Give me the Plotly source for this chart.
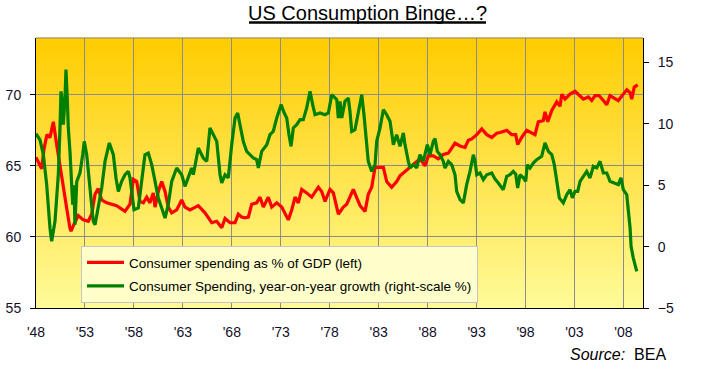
import plotly.graph_objects as go

# ---------------- data ----------------
title_text = "US Consumption Binge…?"
source_label = "Source:"
source_name = "BEA"
series_names = ["Consumer spending as % of GDP (left)",
                "Consumer Spending, year-on-year growth (right-scale %)"]

x_tick_years = [1948, 1953, 1958, 1963, 1968, 1973, 1978, 1983, 1988, 1993, 1998, 2003, 2008]
x_tick_labels = ["'48", "'53", "'58", "'63", "'68", "'73", "'78", "'83", "'88", "'93", "'98", "'03", "'08"]
left_ticks = [55, 60, 65, 70]
right_ticks = [-5, 0, 5, 10, 15]

red_years = [1948.00, 1948.31, 1948.58, 1948.82, 1949.12, 1949.43, 1949.77, 1950.11, 1950.45, 1950.79,
             1951.14, 1951.47, 1951.58, 1951.88, 1952.32, 1952.83, 1953.34, 1953.69, 1954.03, 1954.36,
             1954.71, 1955.22, 1956.24, 1957.09, 1957.60, 1957.94, 1958.29, 1958.62, 1958.96, 1959.31,
             1959.64, 1959.98, 1960.16, 1960.49, 1960.84, 1961.18, 1961.51, 1961.86, 1962.37, 1962.88,
             1963.22, 1963.73, 1964.58, 1965.26, 1965.95, 1966.46, 1966.97, 1967.31, 1967.82, 1968.33,
             1968.66, 1969.01, 1969.35, 1969.69, 1970.03, 1970.54, 1970.88, 1971.22, 1971.73, 1972.08,
             1972.59, 1973.10, 1973.43, 1973.77, 1974.12, 1974.46, 1974.79, 1975.14, 1975.65, 1976.16,
             1976.84, 1977.18, 1977.52, 1978.03, 1978.37, 1978.88, 1979.39, 1979.74, 1980.41, 1980.76,
             1981.10, 1981.61, 1981.94, 1982.29, 1982.63, 1983.48, 1983.82, 1984.33, 1984.84, 1985.18,
             1985.69, 1986.20, 1986.71, 1987.22, 1987.74, 1988.07, 1988.58, 1989.09, 1989.60, 1990.12,
             1990.80, 1991.31, 1991.82, 1992.16, 1992.51, 1993.02, 1993.53, 1994.04, 1994.55, 1995.06,
             1995.40, 1996.08, 1996.59, 1997.00, 1997.20, 1997.61, 1998.12, 1998.63, 1998.97, 1999.31,
             1999.82, 1999.99, 2000.27, 2000.68, 2001.19, 2001.53, 2001.70, 2002.04, 2002.55, 2003.06,
             2003.57, 2003.91, 2004.42, 2004.76, 2005.10, 2005.51, 2005.95, 2006.30, 2006.63, 2006.97,
             2007.48, 2007.99, 2008.34, 2008.68, 2008.85, 2009.11, 2009.46]
red_values = [65.6, 65.2, 64.8, 66.2, 67.2, 67.0, 68.1, 66.5, 65.0, 63.2,
              62.0, 60.6, 60.4, 60.9, 61.5, 61.2, 61.1, 61.6, 63.0, 63.4,
              62.6, 62.4, 62.2, 61.8, 62.3, 64.05, 63.9, 62.5, 62.4, 62.8,
              62.4, 63.1, 62.1, 63.2, 63.9, 63.2, 62.1, 61.7, 61.9, 62.6,
              62.1, 61.9, 62.2, 61.7, 61.0, 61.1, 60.65, 61.3, 61.0, 61.0,
              61.6, 61.4, 61.35, 61.4, 62.3, 62.4, 62.8, 62.1, 62.8, 62.1,
              62.4, 62.1, 61.6, 61.2, 61.9, 62.8, 62.4, 63.35, 63.1, 62.8,
              63.5, 63.2, 62.5, 63.35, 63.1, 61.6, 62.1, 62.3, 63.35, 62.8,
              62.2, 61.8, 63.0, 63.5, 64.9, 64.9, 63.9, 63.5, 63.9, 64.3,
              64.6, 64.9, 65.2, 65.5, 65.0, 65.7, 65.7, 65.5, 65.8, 65.9,
              66.6, 66.4, 66.3, 66.8, 66.9, 67.2, 67.6, 67.2, 67.0, 67.3,
              67.35, 67.5, 67.2, 67.2, 66.5, 67.0, 67.5, 67.35, 67.2, 68.1,
              68.2, 68.8, 68.1, 68.9, 69.5, 69.2, 70.05, 69.7, 70.05, 70.25,
              69.95, 69.7, 69.85, 69.6, 69.95, 69.95, 69.6, 69.3, 69.95, 69.8,
              69.6, 70.05, 70.35, 70.15, 69.7, 70.55, 70.7]

green_years = [1948.00, 1948.41, 1948.75, 1949.09, 1949.43, 1949.60, 1949.94, 1950.28, 1950.45, 1950.55,
               1950.69, 1950.79, 1950.96, 1951.06, 1951.20, 1951.30, 1951.47, 1951.65, 1951.75, 1951.88,
               1951.98, 1952.16, 1952.49, 1952.77, 1952.93, 1953.18, 1953.52, 1953.85, 1954.03, 1954.36,
               1954.71, 1955.05, 1955.49, 1955.90, 1956.17, 1956.41, 1956.75, 1957.09, 1957.43, 1957.60,
               1957.78, 1958.01, 1958.45, 1958.80, 1959.13, 1959.47, 1959.82, 1960.16, 1960.49, 1960.84,
               1961.18, 1961.51, 1961.86, 1962.37, 1962.88, 1963.22, 1963.56, 1963.90, 1964.07, 1964.58,
               1965.09, 1965.44, 1965.77, 1966.11, 1966.46, 1966.80, 1966.97, 1967.31, 1967.64, 1967.99,
               1968.33, 1968.60, 1968.84, 1969.17, 1969.52, 1969.86, 1970.20, 1970.54, 1970.71, 1971.05,
               1971.57, 1971.90, 1972.24, 1972.59, 1973.03, 1973.36, 1973.61, 1973.84, 1974.05, 1974.28,
               1974.63, 1974.97, 1975.30, 1975.65, 1975.99, 1976.26, 1976.50, 1977.01, 1977.52, 1977.86,
               1978.21, 1978.72, 1978.88, 1979.05, 1979.23, 1979.56, 1979.90, 1980.07, 1980.25, 1980.58,
               1980.92, 1981.27, 1981.50, 1981.78, 1981.94, 1982.29, 1982.63, 1982.80, 1983.14, 1983.48,
               1983.82, 1984.16, 1984.50, 1984.84, 1985.18, 1985.52, 1985.69, 1986.03, 1986.20, 1986.54,
               1986.89, 1987.22, 1987.56, 1987.97, 1988.25, 1988.58, 1988.76, 1988.99, 1989.27, 1989.60,
               1989.78, 1990.12, 1990.46, 1990.80, 1990.97, 1991.31, 1991.65, 1991.99, 1992.33, 1992.67,
               1992.84, 1993.02, 1993.35, 1993.69, 1994.04, 1994.55, 1994.89, 1995.22, 1995.73, 1996.08,
               1996.42, 1996.75, 1997.00, 1997.20, 1997.44, 1997.78, 1998.02, 1998.18, 1998.46, 1998.80,
               1999.14, 1999.65, 1999.99, 2000.33, 2000.68, 2000.94, 2001.19, 2001.45, 2001.86, 2002.21,
               2002.55, 2002.78, 2003.06, 2003.33, 2003.57, 2003.91, 2004.25, 2004.59, 2004.93, 2005.27,
               2005.61, 2005.95, 2006.30, 2006.63, 2007.14, 2007.48, 2007.75, 2007.99, 2008.34, 2008.50,
               2008.68, 2008.78, 2009.01, 2009.36]
green_values = [9.2, 8.7, 7.5, 5.05, 1.5, 0.43, 2.06, 5.86, 9.67, 12.65,
                11.8, 9.94, 12.0, 14.42, 12.0, 9.67, 7.76, 4.78, 3.42, 5.0,
                1.79, 5.3, 6.0, 7.49, 8.58, 7.49, 4.78, 2.06, 1.79, 3.15,
                4.78, 6.95, 8.45, 7.49, 5.6, 4.5, 5.32, 5.86, 6.13, 5.6,
                4.5, 3.01, 3.15, 5.6, 7.49, 7.63, 6.68, 5.32, 3.97, 3.15,
                2.33, 3.42, 5.32, 6.41, 5.86, 4.91, 5.6, 6.41, 5.86, 8.04,
                7.22, 6.95, 9.67, 9.12, 8.58, 5.86, 5.19, 5.86, 5.6, 8.31,
                10.48, 10.89, 9.94, 8.58, 7.76, 7.49, 7.22, 7.09, 6.41, 7.76,
                8.31, 9.12, 9.4, 10.48, 11.57, 10.89, 10.48, 9.12, 8.17, 9.67,
                9.94, 10.35, 10.35, 11.3, 12.65, 11.57, 10.75, 10.89, 10.75, 10.89,
                12.38, 11.98, 10.48, 11.84, 10.48, 11.84, 12.11, 11.02, 9.39, 9.53,
                11.02, 12.38, 10.75, 8.58, 6.95, 6.13, 6.68, 8.58, 9.67, 11.16,
                10.75, 10.21, 8.31, 9.12, 8.17, 9.26, 8.31, 6.95, 6.41, 6.68,
                6.41, 7.49, 6.95, 8.31, 7.49, 8.58, 8.8, 7.76, 7.49, 6.95,
                6.41, 6.95, 6.68, 5.86, 4.5, 3.83, 3.56, 5.05, 6.13, 7.49,
                6.95, 5.86, 6.0, 5.46, 5.86, 6.0, 5.5, 5.19, 4.64, 5.73,
                5.86, 6.13, 5.91, 4.78, 5.86, 5.6, 5.32, 6.68, 6.41, 6.81,
                7.09, 7.36, 8.45, 7.76, 7.49, 6.68, 5.46, 3.97, 3.56, 4.23,
                4.64, 3.97, 4.5, 4.5, 5.32, 5.73, 6.13, 5.6, 6.54, 6.41,
                6.95, 6.0, 6.0, 5.32, 5.19, 5.05, 5.6, 4.64, 4.23, 3.15,
                1.52, 0.02, -0.93, -2.02]

# ---------------- geometry / style ----------------
W, H = 701, 370
PL, PR, PT, PB = 36, 643, 38, 308   # plot-area pixel box
FONT = "Liberation Sans, Arial, sans-serif"
TICK_COLOR = "#10102a"


def fx(px):
    return (px - PL) / (PR - PL)


def fy(py):
    return (PB - py) / (PB - PT)


fig = go.Figure()
fig.add_trace(go.Scatter(x=red_years, y=red_values, mode="lines", name=series_names[0],
                         line=dict(color="#ff0000", width=3.2), legendgroup="a"))
fig.add_trace(go.Scatter(x=green_years, y=green_values, mode="lines", name=series_names[1],
                         line=dict(color="#008000", width=3.2), yaxis="y2", legendgroup="b"))

# gradient background (style only)
shapes = []
top_c = (255, 204, 0)
bot_c = (255, 251, 153)
n = 90
for i in range(n):
    t = (i + 0.5) / n
    c = tuple(round(bot_c[k] * (1 - t) + top_c[k] * t) for k in range(3))
    shapes.append(dict(type="rect", xref="paper", yref="paper", x0=0, x1=1,
                       y0=i / n, y1=(i + 1) / n + 0.002, layer="below",
                       fillcolor="rgb(%d,%d,%d)" % c, line=dict(width=0)))
# top border (gray)
shapes.append(dict(type="line", xref="paper", yref="paper", x0=0, x1=1, y0=1, y1=1,
                   line=dict(color="#8c8c8c", width=1)))
# title underline
shapes.append(dict(type="line", xref="paper", yref="paper", x0=fx(249), x1=fx(486),
                   y0=fy(22.5), y1=fy(22.5), line=dict(color="black", width=2.5)))

annotations = [
    dict(text=title_text, xref="paper", yref="paper", x=fx(367.5), y=fy(13.5), xanchor="center",
         yanchor="middle", showarrow=False, font=dict(family=FONT, size=20, color="black")),
    dict(text="<i>" + source_label + "</i>\u00a0 " + source_name, xref="paper", yref="paper",
         x=fx(668), y=fy(354), xanchor="right", yanchor="middle", showarrow=False,
         font=dict(family=FONT, size=16, color="black")),
]

fig.update_layout(
    width=W, height=H, autosize=False,
    margin=dict(l=PL, r=W - PR, t=PT, b=H - PB, pad=0, autoexpand=False),
    paper_bgcolor="white", plot_bgcolor="#ffe44c",
    font=dict(family=FONT, size=14, color=TICK_COLOR),
    shapes=shapes, annotations=annotations,
    showlegend=True, hovermode=False,
    legend=dict(x=fx(81), y=fy(246), xanchor="left", yanchor="top",
                bgcolor="#ffffcc", bordercolor="#c4c4c4", borderwidth=1,
                font=dict(family=FONT, size=13.5, color="black"),
                traceorder="grouped", tracegroupgap=3, itemwidth=37),
    xaxis=dict(range=[1948, 2010], tickmode="array", tickvals=x_tick_years, ticktext=x_tick_labels,
               showgrid=True, gridcolor="#8c8c8c", gridwidth=1, zeroline=False, automargin=False,
               showline=True, linecolor="black", linewidth=1, ticks="",
               ticklabelstandoff=11, tickfont=dict(family=FONT, size=14, color=TICK_COLOR)),
    yaxis=dict(range=[55, 74], tickmode="array", tickvals=left_ticks, automargin=False,
               showgrid=True, gridcolor="#8c8c8c", gridwidth=1, zeroline=False,
               showline=True, linecolor="black", linewidth=1, ticks="outside", ticklen=5,
               tickcolor="black", ticklabelstandoff=6,
               tickfont=dict(family=FONT, size=14, color=TICK_COLOR)),
    yaxis2=dict(range=[-5, 17], overlaying="y", side="right", tickmode="array", tickvals=right_ticks,
                showgrid=False, zeroline=False, showline=True, linecolor="black", linewidth=1,
                automargin=False,
                ticks="outside", ticklen=5, tickcolor="black", ticklabelstandoff=6,
                tickfont=dict(family=FONT, size=14, color=TICK_COLOR)),
)

fig.write_html("out.html", config={"displayModeBar": False},
               post_script="document.body.style.margin='0px';")
